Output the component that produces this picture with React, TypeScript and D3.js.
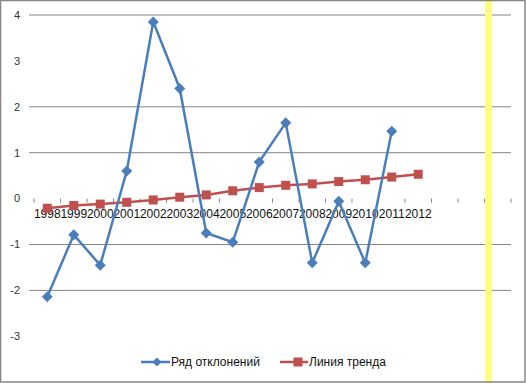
import React from "react";
import * as d3 from "d3";

const years = ["1998","1999","2000","2001","2002","2003","2004","2005","2006","2007","2008","2009","2010","2011","2012"];
const emptySlots = ["", " ", "  "];
const deviations = [-2.14, -0.79, -1.45, 0.6, 3.85, 2.4, -0.75, -0.95, 0.8, 1.65, -1.4, -0.06, -1.4, 1.47];
const trend = [-0.21, -0.15, -0.12, -0.08, -0.03, 0.03, 0.08, 0.17, 0.24, 0.29, 0.32, 0.37, 0.41, 0.47, 0.53];
const yTicks = [4, 3, 2, 1, 0, -1, -2, -3];
const gridValues = [4, 2, 1, -1, -2];
const seriesNames = ["Ряд отклонений", "Линия тренда"];

const W = 526, H = 383;
const BLUE = "#4A7EBB", RED = "#C0504D";

export default function App() {
  const x = d3.scaleBand<string>().domain([...years, ...emptySlots]).range([34, 511]);
  const cx = (i: number) => (x(years[i]) as number) + x.bandwidth() / 2;
  const y = d3.scaleLinear().domain([-3, 4]).range([336.3, 15]);
  const line = d3.line<number>().x((_, i) => cx(i)).y((d) => y(d));
  const font = "'Liberation Sans', Arial, sans-serif";
  const boundaries = d3.range(0, 19).map((k) => 34 + k * x.bandwidth());

  return (
    <svg width={W} height={H} style={{ position: "absolute", left: 0, top: 0 }} fontFamily={font}>
      <rect x={0} y={0} width={W} height={H} fill="#fff" />
      {gridValues.map((v) => (
        <line key={v} x1={29} x2={511} y1={y(v)} y2={y(v)} stroke="#868686" strokeWidth={1} />
      ))}
      {boundaries.map((bx, i) => (
        <line key={i} x1={bx} x2={bx} y1={y(0)} y2={y(0) + 4} stroke="#868686" strokeWidth={1} />
      ))}
      {yTicks.map((v) => (
        <text key={v} x={20} y={y(v)} dy="0.35em" textAnchor="end" fontSize={11} fill="#333">
          {v < 0 ? "-" + Math.abs(v) : v}
        </text>
      ))}
      {years.map((yr, i) => (
        <text key={yr} x={cx(i)} y={y(0) + 19} textAnchor="middle" fontSize={12} fill="#111">
          {yr}
        </text>
      ))}
      <path d={line(trend) || ""} fill="none" stroke={RED} strokeWidth={2.5} />
      {trend.map((v, i) => (
        <rect key={i} x={cx(i) - 4.5} y={y(v) - 4.5} width={9} height={9} fill={RED} />
      ))}
      <path d={line(deviations) || ""} fill="none" stroke={BLUE} strokeWidth={2.5} />
      {deviations.map((v, i) => (
        <path key={i} d={`M${cx(i)},${y(v) - 5.5}L${cx(i) + 5.5},${y(v)}L${cx(i)},${y(v) + 5.5}L${cx(i) - 5.5},${y(v)}Z`} fill={BLUE} />
      ))}
      <rect x={485} y={0} width={7} height={H} fill="#FFFF80" />
      <g transform="translate(0,362)">
        <line x1={141} x2={170} y1={0} y2={0} stroke={BLUE} strokeWidth={2.5} />
        <path d="M157,-4.5L161.5,0L157,4.5L152.5,0Z" fill={BLUE} />
        <text x={171} y={0} dy="0.35em" fontSize={12} fill="#111">{seriesNames[0]}</text>
        <line x1={280} x2={308} y1={0} y2={0} stroke={RED} strokeWidth={2.5} />
        <rect x={293.5} y={-4.5} width={9} height={9} fill={RED} />
        <text x={309} y={0} dy="0.35em" fontSize={12} fill="#111">{seriesNames[1]}</text>
      </g>
      <rect x={0.5} y={0.5} width={W - 1.5} height={H - 1.5} fill="none" stroke="#868686" strokeWidth={1.5} />
    </svg>
  );
}
